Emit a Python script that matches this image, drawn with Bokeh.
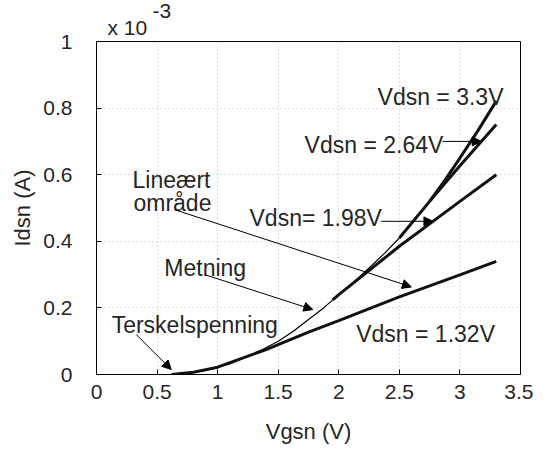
from bokeh.plotting import figure
from bokeh.models import Range1d, FixedTicker, Arrow, NormalHead, Title
from bokeh.embed import file_html
from bokeh.resources import INLINE
from bokeh.core.properties import value

# ---- data (Idsn in units of 1e-3 A) ----
vgs_sat = [0.62, 0.7, 0.8, 0.9, 1.0, 1.1, 1.25, 1.375, 1.5, 1.625, 1.75, 1.875, 2.0,
           2.125, 2.25, 2.375, 2.5, 2.625, 2.75, 2.875, 3.0, 3.15, 3.3]
ids_sat = [0.0, 0.002, 0.007, 0.013, 0.022, 0.032, 0.055, 0.076, 0.10, 0.13, 0.165, 0.2, 0.24,
           0.278, 0.32, 0.363, 0.41, 0.463, 0.52, 0.583, 0.65, 0.733, 0.821]

vgs_132 = [0.62, 0.8, 1.0, 1.25, 1.4, 1.5, 1.75, 2.0, 2.5, 3.0, 3.3]
ids_132 = [0.0, 0.007, 0.022, 0.055, 0.075, 0.09, 0.127, 0.162, 0.233, 0.299, 0.34]

vgs_198 = [1.95, 2.0, 2.5, 3.0, 3.3]
ids_198 = [0.224, 0.24, 0.385, 0.52, 0.60]

vgs_264 = [2.5, 2.75, 3.0, 3.3]
ids_264 = [0.41, 0.52, 0.627, 0.751]

vgs_33 = [2.75, 2.875, 3.0, 3.15, 3.3]
ids_33 = [0.52, 0.583, 0.65, 0.733, 0.821]

x_ticks = [0, 0.5, 1, 1.5, 2, 2.5, 3, 3.5]
x_tick_labels = ["0", "0.5", "1", "1.5", "2", "2.5", "3", "3.5"]
y_ticks = [0, 0.2, 0.4, 0.6, 0.8, 1.0]
y_tick_labels = ["0", "0.2", "0.4", "0.6", "0.8", "1"]
y_scale_base = "x 10"
y_scale_exp = "-3"

ann_texts = ["Vdsn = 3.3V", "Vdsn = 2.64V", "Vdsn= 1.98V", "Vdsn = 1.32V",
             "Lineært", "område", "Metning", "Terskelspenning"]
# annotation placement (left edge, baseline)
ann_x = [2.32, 1.718, 1.263, 2.144, 0.297, 0.305, 0.56, 0.125]
ann_y = [0.832, 0.689, 0.470, 0.123, 0.583, 0.514, 0.320, 0.149]

# arrows (start x, start y, end x, end y)
arr_x0 = [2.857, 2.351, 0.644, 0.892, 0.328]
arr_y0 = [0.700, 0.460, 0.495, 0.300, 0.120]
arr_x1 = [3.176, 2.777, 2.599, 1.786, 0.617]
arr_y1 = [0.700, 0.460, 0.263, 0.195, 0.015]

FONT = "Liberation Sans"
TXT = "#262626"

p = figure(width=533, height=448, output_backend="svg", toolbar_location=None,
           x_range=Range1d(0, 3.5), y_range=Range1d(0, 1.0),
           min_border_left=96, min_border_right=13, min_border_top=41, min_border_bottom=74)
p.background_fill_color = "white"
p.border_fill_color = "white"
p.outline_line_color = "black"
p.outline_line_width = 1

# multiplier "x 10^-3": exponent row is the outer title, base row sits next to the frame
p.title.text = y_scale_exp
p.title.text_font = FONT
p.title.text_font_size = "21px"
p.title.text_font_style = "normal"
p.title.text_color = TXT
p.title.align = "left"
p.title.offset = 56
p.title.standoff = -12
p.add_layout(Title(text=y_scale_base, text_font=FONT, text_font_size="21px",
                   text_font_style="normal", text_color=TXT, align="left",
                   offset=11, standoff=5), "above")

for ax in (p.xaxis, p.yaxis):
    ax.major_label_text_font = FONT
    ax.major_label_text_font_size = "21px"
    ax.major_label_text_color = TXT
    ax.axis_label_text_font = FONT
    ax.axis_label_text_font_size = "22px"
    ax.axis_label_text_font_style = "normal"
    ax.axis_label_text_color = TXT
    ax.major_tick_in = 5
    ax.major_tick_out = 0
    ax.minor_tick_line_color = None
    ax.axis_line_color = "black"
    ax.major_tick_line_color = "black"

p.xaxis.ticker = FixedTicker(ticks=x_ticks)
p.xaxis.major_label_overrides = dict(zip(x_ticks, x_tick_labels))
p.yaxis.ticker = FixedTicker(ticks=y_ticks)
p.yaxis.major_label_overrides = dict(zip(y_ticks, y_tick_labels))
p.xaxis.axis_label = "Vgsn (V)"
p.yaxis.axis_label = "Idsn (A)"
p.xaxis.major_label_standoff = 10
p.yaxis.major_label_standoff = 24
p.xaxis.axis_label_standoff = 17
p.yaxis.axis_label_standoff = 5

p.xgrid.grid_line_color = "#c0c0c0"
p.ygrid.grid_line_color = "#c0c0c0"
p.xgrid.grid_line_dash = "1 3"
p.ygrid.grid_line_dash = "1 3"
p.xgrid.grid_line_width = 1
p.ygrid.grid_line_width = 1

p.line(vgs_sat, ids_sat, line_color="black", line_width=1.2)
p.line(vgs_132, ids_132, line_color="#111111", line_width=3)
p.line(vgs_198, ids_198, line_color="#111111", line_width=3)
p.line(vgs_264, ids_264, line_color="#111111", line_width=3)
p.line(vgs_33, ids_33, line_color="#111111", line_width=3)

p.text(x=ann_x, y=ann_y, text=ann_texts, text_font=value(FONT), text_font_size="23px",
       text_color=TXT, text_align="left", text_baseline="alphabetic")

for x0, y0, x1, y1 in zip(arr_x0, arr_y0, arr_x1, arr_y1):
    p.add_layout(Arrow(x_start=x0, y_start=y0, x_end=x1, y_end=y1,
                       line_color="black", line_width=1,
                       end=NormalHead(size=9, fill_color="black", line_color="black")))

open("out.html", "w").write(file_html(p, INLINE))
